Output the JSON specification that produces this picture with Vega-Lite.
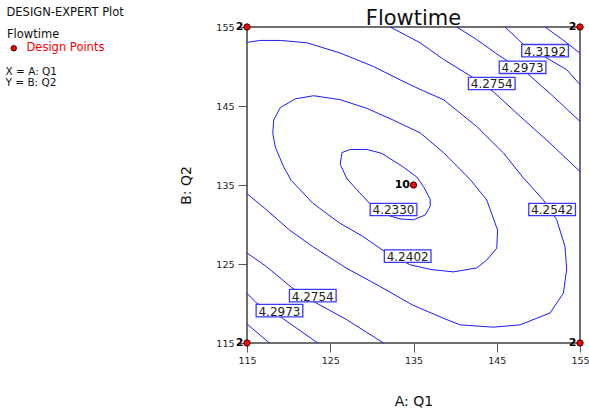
{
  "$schema": "https://vega.github.io/schema/vega-lite/v6.json",
  "width": 333,
  "height": 316,
  "autosize": "none",
  "padding": {"left": 247, "top": 27, "right": 9, "bottom": 70},
  "background": "white",
  "title": {"text": "Flowtime", "font": "DejaVu Sans", "fontSize": 21, "fontWeight": "normal", "color": "#111111", "anchor": "middle", "offset": 3, "dy": 25},
  "config": {
    "view": {"stroke": "#707070", "strokeWidth": 2},
    "axis": {"grid": false, "domain": false, "tickColor": "#555555", "tickWidth": 1, "tickSize": 9, "labelFont": "DejaVu Sans", "labelFontSize": 9.5, "labelColor": "#222222", "titleFont": "DejaVu Sans", "titleFontWeight": "normal", "titleColor": "#111111", "labelFlush": false},
    "legend": {"labelFont": "DejaVu Sans", "titleFont": "DejaVu Sans", "labelFontSize": 11.5, "titleFontSize": 11.5, "titleFontWeight": "normal", "titleColor": "#111111", "labelColor": "#111111"}
  },
  "datasets": {
    "contours": [
      {"level": "4.2330", "part": "a", "seq": 0, "A": 126.4, "B": 139.1},
      {"level": "4.2330", "part": "a", "seq": 1, "A": 127.4, "B": 139.5},
      {"level": "4.2330", "part": "a", "seq": 2, "A": 129.4, "B": 139.5},
      {"level": "4.2330", "part": "a", "seq": 3, "A": 131.2, "B": 139.0},
      {"level": "4.2330", "part": "a", "seq": 4, "A": 133.6, "B": 137.4},
      {"level": "4.2330", "part": "a", "seq": 5, "A": 135.4, "B": 136.0},
      {"level": "4.2330", "part": "a", "seq": 6, "A": 136.2, "B": 134.8},
      {"level": "4.2330", "part": "a", "seq": 7, "A": 137.0, "B": 133.2},
      {"level": "4.2330", "part": "a", "seq": 8, "A": 137.0, "B": 132.3},
      {"level": "4.2330", "part": "a", "seq": 9, "A": 136.4, "B": 131.2},
      {"level": "4.2330", "part": "a", "seq": 10, "A": 135.0, "B": 130.6},
      {"level": "4.2330", "part": "a", "seq": 11, "A": 133.4, "B": 130.7},
      {"level": "4.2330", "part": "a", "seq": 12, "A": 131.8, "B": 131.2},
      {"level": "4.2330", "part": "a", "seq": 13, "A": 129.7, "B": 132.7},
      {"level": "4.2330", "part": "a", "seq": 14, "A": 128.2, "B": 134.4},
      {"level": "4.2330", "part": "a", "seq": 15, "A": 127.0, "B": 135.8},
      {"level": "4.2330", "part": "a", "seq": 16, "A": 126.2, "B": 137.6},
      {"level": "4.2330", "part": "a", "seq": 17, "A": 126.4, "B": 139.1},
      {"level": "4.2402", "part": "a", "seq": 0, "A": 118.2, "B": 143.2},
      {"level": "4.2402", "part": "a", "seq": 1, "A": 119.0, "B": 144.8},
      {"level": "4.2402", "part": "a", "seq": 2, "A": 120.8, "B": 145.9},
      {"level": "4.2402", "part": "a", "seq": 3, "A": 123.0, "B": 146.3},
      {"level": "4.2402", "part": "a", "seq": 4, "A": 126.2, "B": 145.8},
      {"level": "4.2402", "part": "a", "seq": 5, "A": 129.4, "B": 144.7},
      {"level": "4.2402", "part": "a", "seq": 6, "A": 132.6, "B": 143.2},
      {"level": "4.2402", "part": "a", "seq": 7, "A": 135.8, "B": 141.6},
      {"level": "4.2402", "part": "a", "seq": 8, "A": 138.6, "B": 139.1},
      {"level": "4.2402", "part": "a", "seq": 9, "A": 141.8, "B": 135.7},
      {"level": "4.2402", "part": "a", "seq": 10, "A": 143.8, "B": 133.1},
      {"level": "4.2402", "part": "a", "seq": 11, "A": 145.1, "B": 129.3},
      {"level": "4.2402", "part": "a", "seq": 12, "A": 145.0, "B": 127.0},
      {"level": "4.2402", "part": "a", "seq": 13, "A": 143.8, "B": 125.5},
      {"level": "4.2402", "part": "a", "seq": 14, "A": 142.6, "B": 124.5},
      {"level": "4.2402", "part": "a", "seq": 15, "A": 139.8, "B": 124.0},
      {"level": "4.2402", "part": "a", "seq": 16, "A": 137.1, "B": 124.3},
      {"level": "4.2402", "part": "a", "seq": 17, "A": 134.6, "B": 124.9},
      {"level": "4.2402", "part": "a", "seq": 18, "A": 131.5, "B": 126.6},
      {"level": "4.2402", "part": "a", "seq": 19, "A": 128.9, "B": 128.5},
      {"level": "4.2402", "part": "a", "seq": 20, "A": 126.1, "B": 130.2},
      {"level": "4.2402", "part": "a", "seq": 21, "A": 122.9, "B": 132.7},
      {"level": "4.2402", "part": "a", "seq": 22, "A": 120.3, "B": 135.6},
      {"level": "4.2402", "part": "a", "seq": 23, "A": 119.4, "B": 137.3},
      {"level": "4.2402", "part": "a", "seq": 24, "A": 118.4, "B": 139.8},
      {"level": "4.2402", "part": "a", "seq": 25, "A": 118.1, "B": 141.5},
      {"level": "4.2402", "part": "a", "seq": 26, "A": 118.2, "B": 143.2},
      {"level": "4.2542", "part": "a", "seq": 0, "A": 115.0, "B": 153.05},
      {"level": "4.2542", "part": "a", "seq": 1, "A": 116.6, "B": 153.3},
      {"level": "4.2542", "part": "a", "seq": 2, "A": 119.0, "B": 153.3},
      {"level": "4.2542", "part": "a", "seq": 3, "A": 122.2, "B": 153.0},
      {"level": "4.2542", "part": "a", "seq": 4, "A": 126.2, "B": 151.7},
      {"level": "4.2542", "part": "a", "seq": 5, "A": 130.2, "B": 150.0},
      {"level": "4.2542", "part": "a", "seq": 6, "A": 133.4, "B": 148.3},
      {"level": "4.2542", "part": "a", "seq": 7, "A": 135.8, "B": 147.1},
      {"level": "4.2542", "part": "a", "seq": 8, "A": 138.6, "B": 145.8},
      {"level": "4.2542", "part": "a", "seq": 9, "A": 142.6, "B": 142.4},
      {"level": "4.2542", "part": "a", "seq": 10, "A": 145.8, "B": 139.05},
      {"level": "4.2542", "part": "a", "seq": 11, "A": 148.2, "B": 135.9},
      {"level": "4.2542", "part": "a", "seq": 12, "A": 150.6, "B": 133.1},
      {"level": "4.2542", "part": "a", "seq": 13, "A": 152.2, "B": 130.6},
      {"level": "4.2542", "part": "a", "seq": 14, "A": 153.2, "B": 127.2},
      {"level": "4.2542", "part": "a", "seq": 15, "A": 153.4, "B": 124.3},
      {"level": "4.2542", "part": "a", "seq": 16, "A": 153.0, "B": 121.3},
      {"level": "4.2542", "part": "a", "seq": 17, "A": 151.4, "B": 118.8},
      {"level": "4.2542", "part": "a", "seq": 18, "A": 147.8, "B": 117.3},
      {"level": "4.2542", "part": "a", "seq": 19, "A": 144.6, "B": 117.0},
      {"level": "4.2542", "part": "a", "seq": 20, "A": 140.6, "B": 117.3},
      {"level": "4.2542", "part": "a", "seq": 21, "A": 138.9, "B": 118.0},
      {"level": "4.2542", "part": "a", "seq": 22, "A": 134.9, "B": 119.8},
      {"level": "4.2542", "part": "a", "seq": 23, "A": 130.9, "B": 122.2},
      {"level": "4.2542", "part": "a", "seq": 24, "A": 126.9, "B": 124.5},
      {"level": "4.2542", "part": "a", "seq": 25, "A": 122.9, "B": 127.2},
      {"level": "4.2542", "part": "a", "seq": 26, "A": 120.1, "B": 129.3},
      {"level": "4.2542", "part": "a", "seq": 27, "A": 117.3, "B": 131.9},
      {"level": "4.2542", "part": "a", "seq": 28, "A": 115.0, "B": 133.9},
      {"level": "4.2754", "part": "a", "seq": 0, "A": 132.2, "B": 155.0},
      {"level": "4.2754", "part": "a", "seq": 1, "A": 135.8, "B": 153.0},
      {"level": "4.2754", "part": "a", "seq": 2, "A": 138.6, "B": 150.9},
      {"level": "4.2754", "part": "a", "seq": 3, "A": 142.0, "B": 148.7},
      {"level": "4.2754", "part": "a", "seq": 4, "A": 144.6, "B": 146.8},
      {"level": "4.2754", "part": "a", "seq": 5, "A": 147.8, "B": 143.7},
      {"level": "4.2754", "part": "a", "seq": 6, "A": 151.4, "B": 140.3},
      {"level": "4.2754", "part": "a", "seq": 7, "A": 155.0, "B": 136.7},
      {"level": "4.2754", "part": "b", "seq": 0, "A": 115.0, "B": 126.4},
      {"level": "4.2754", "part": "b", "seq": 1, "A": 117.3, "B": 124.7},
      {"level": "4.2754", "part": "b", "seq": 2, "A": 120.4, "B": 122.0},
      {"level": "4.2754", "part": "b", "seq": 3, "A": 122.9, "B": 120.3},
      {"level": "4.2754", "part": "b", "seq": 4, "A": 126.9, "B": 118.0},
      {"level": "4.2754", "part": "b", "seq": 5, "A": 131.4, "B": 115.0},
      {"level": "4.2973", "part": "a", "seq": 0, "A": 140.2, "B": 155.0},
      {"level": "4.2973", "part": "a", "seq": 1, "A": 142.6, "B": 153.4},
      {"level": "4.2973", "part": "a", "seq": 2, "A": 145.4, "B": 151.3},
      {"level": "4.2973", "part": "a", "seq": 3, "A": 148.6, "B": 149.2},
      {"level": "4.2973", "part": "a", "seq": 4, "A": 151.8, "B": 146.2},
      {"level": "4.2973", "part": "a", "seq": 5, "A": 155.0, "B": 143.05},
      {"level": "4.2973", "part": "b", "seq": 0, "A": 115.0, "B": 121.3},
      {"level": "4.2973", "part": "b", "seq": 1, "A": 116.1, "B": 120.1},
      {"level": "4.2973", "part": "b", "seq": 2, "A": 118.9, "B": 118.4},
      {"level": "4.2973", "part": "b", "seq": 3, "A": 123.5, "B": 115.0},
      {"level": "4.3192", "part": "a", "seq": 0, "A": 146.0, "B": 155.0},
      {"level": "4.3192", "part": "a", "seq": 1, "A": 148.2, "B": 152.8},
      {"level": "4.3192", "part": "a", "seq": 2, "A": 153.4, "B": 149.6},
      {"level": "4.3192", "part": "a", "seq": 3, "A": 155.0, "B": 147.7},
      {"level": "4.3192", "part": "b", "seq": 0, "A": 115.0, "B": 117.4},
      {"level": "4.3192", "part": "b", "seq": 1, "A": 117.7, "B": 115.0},
      {"level": "4.3411", "part": "a", "seq": 0, "A": 150.8, "B": 155.0},
      {"level": "4.3411", "part": "a", "seq": 1, "A": 152.9, "B": 153.4},
      {"level": "4.3411", "part": "a", "seq": 2, "A": 155.0, "B": 151.7}
    ],
    "labels": [
      {"label": "4.3192", "A": 150.8, "B": 152.0},
      {"label": "4.2973", "A": 148.1, "B": 149.9},
      {"label": "4.2754", "A": 144.4, "B": 147.85},
      {"label": "4.2330", "A": 132.6, "B": 131.9},
      {"label": "4.2542", "A": 151.65, "B": 131.9},
      {"label": "4.2402", "A": 134.3, "B": 126.0},
      {"label": "4.2754", "A": 122.9, "B": 121.0},
      {"label": "4.2973", "A": 118.9, "B": 119.1}
    ],
    "points": [
      {"A": 115, "B": 115, "runs": "2", "kind": "Design Points"},
      {"A": 155, "B": 115, "runs": "2", "kind": "Design Points"},
      {"A": 115, "B": 155, "runs": "2", "kind": "Design Points"},
      {"A": 155, "B": 155, "runs": "2", "kind": "Design Points"},
      {"A": 135, "B": 135, "runs": "10", "kind": "Design Points"}
    ]
  },
  "layer": [
    {
      "data": {"name": "contours"},
      "mark": {"type": "line", "stroke": "#1a1aff", "strokeWidth": 1, "interpolate": "linear"},
      "encoding": {
        "x": {"field": "A", "type": "quantitative", "scale": {"domain": [115, 155], "nice": false, "zero": false},
              "axis": {"values": [115, 125, 135, 145, 155], "title": "A: Q1", "titleFontSize": 14, "titlePadding": 30, "labelPadding": 3}},
        "y": {"field": "B", "type": "quantitative", "scale": {"domain": [115, 155], "nice": false, "zero": false},
              "axis": {"values": [115, 125, 135, 145, 155], "title": "B: Q2", "titleFontSize": 14, "titlePadding": 22, "labelPadding": 4}},
        "detail": [{"field": "level"}, {"field": "part"}],
        "order": {"field": "seq", "type": "quantitative"}
      }
    },
    {
      "data": {"name": "labels"},
      "mark": {"type": "point", "shape": "M-1,-0.265L1,-0.265L1,0.265L-1,0.265Z", "size": 2180, "filled": true, "fill": "white", "fillOpacity": 1, "stroke": "#3a3aff", "strokeWidth": 1.3, "opacity": 1},
      "encoding": {
        "x": {"field": "A", "type": "quantitative"},
        "y": {"field": "B", "type": "quantitative"}
      }
    },
    {
      "data": {"name": "labels"},
      "mark": {"type": "text", "font": "DejaVu Sans", "fontSize": 12, "color": "#222222", "align": "center", "baseline": "middle", "dy": 1},
      "encoding": {
        "x": {"field": "A", "type": "quantitative"},
        "y": {"field": "B", "type": "quantitative"},
        "text": {"field": "label"}
      }
    },
    {
      "data": {"name": "points"},
      "mark": {"type": "point", "filled": true, "size": 40, "stroke": "#330000", "strokeWidth": 1, "opacity": 1, "clip": false},
      "encoding": {
        "x": {"field": "A", "type": "quantitative"},
        "y": {"field": "B", "type": "quantitative"},
        "color": {"field": "kind", "type": "nominal", "scale": {"range": ["#ff0000"]},
                  "legend": {"title": "Flowtime", "orient": "none", "legendX": -240, "legendY": 2, "titlePadding": 2, "labelColor": "#ff0000", "symbolType": "circle", "symbolSize": 30, "symbolFillColor": "#ff0000", "symbolStrokeColor": "#330000", "symbolStrokeWidth": 1, "symbolOffset": 1, "labelOffset": 7}}
      }
    },
    {
      "data": {"name": "points"},
      "mark": {"type": "text", "font": "DejaVu Sans", "fontSize": 11, "fontWeight": "bold", "color": "#000000", "align": "right", "baseline": "middle", "dx": -3.5, "clip": false},
      "encoding": {
        "x": {"field": "A", "type": "quantitative"},
        "y": {"field": "B", "type": "quantitative"},
        "text": {"field": "runs"}
      }
    },
    {
      "data": {"values": [{"head": "DESIGN-EXPERT Plot"}]},
      "mark": {"type": "point", "opacity": 0},
      "encoding": {
        "strokeDash": {"field": "head", "type": "nominal",
                       "legend": {"title": null, "orient": "none", "legendX": -252, "legendY": -20, "symbolOpacity": 0, "symbolSize": 0, "symbolStrokeWidth": 0, "labelOffset": 0}}
      }
    },
    {
      "data": {"values": [{"note": "X = A: Q1"}, {"note": "Y = B: Q2"}]},
      "mark": {"type": "point", "opacity": 0},
      "encoding": {
        "shape": {"field": "note", "type": "nominal",
                  "legend": {"title": null, "orient": "none", "legendX": -252, "legendY": 40, "rowPadding": 0, "labelFontSize": 10.5, "symbolOpacity": 0, "symbolSize": 0, "symbolStrokeWidth": 0, "labelOffset": 0}}
      }
    }
  ]
}
